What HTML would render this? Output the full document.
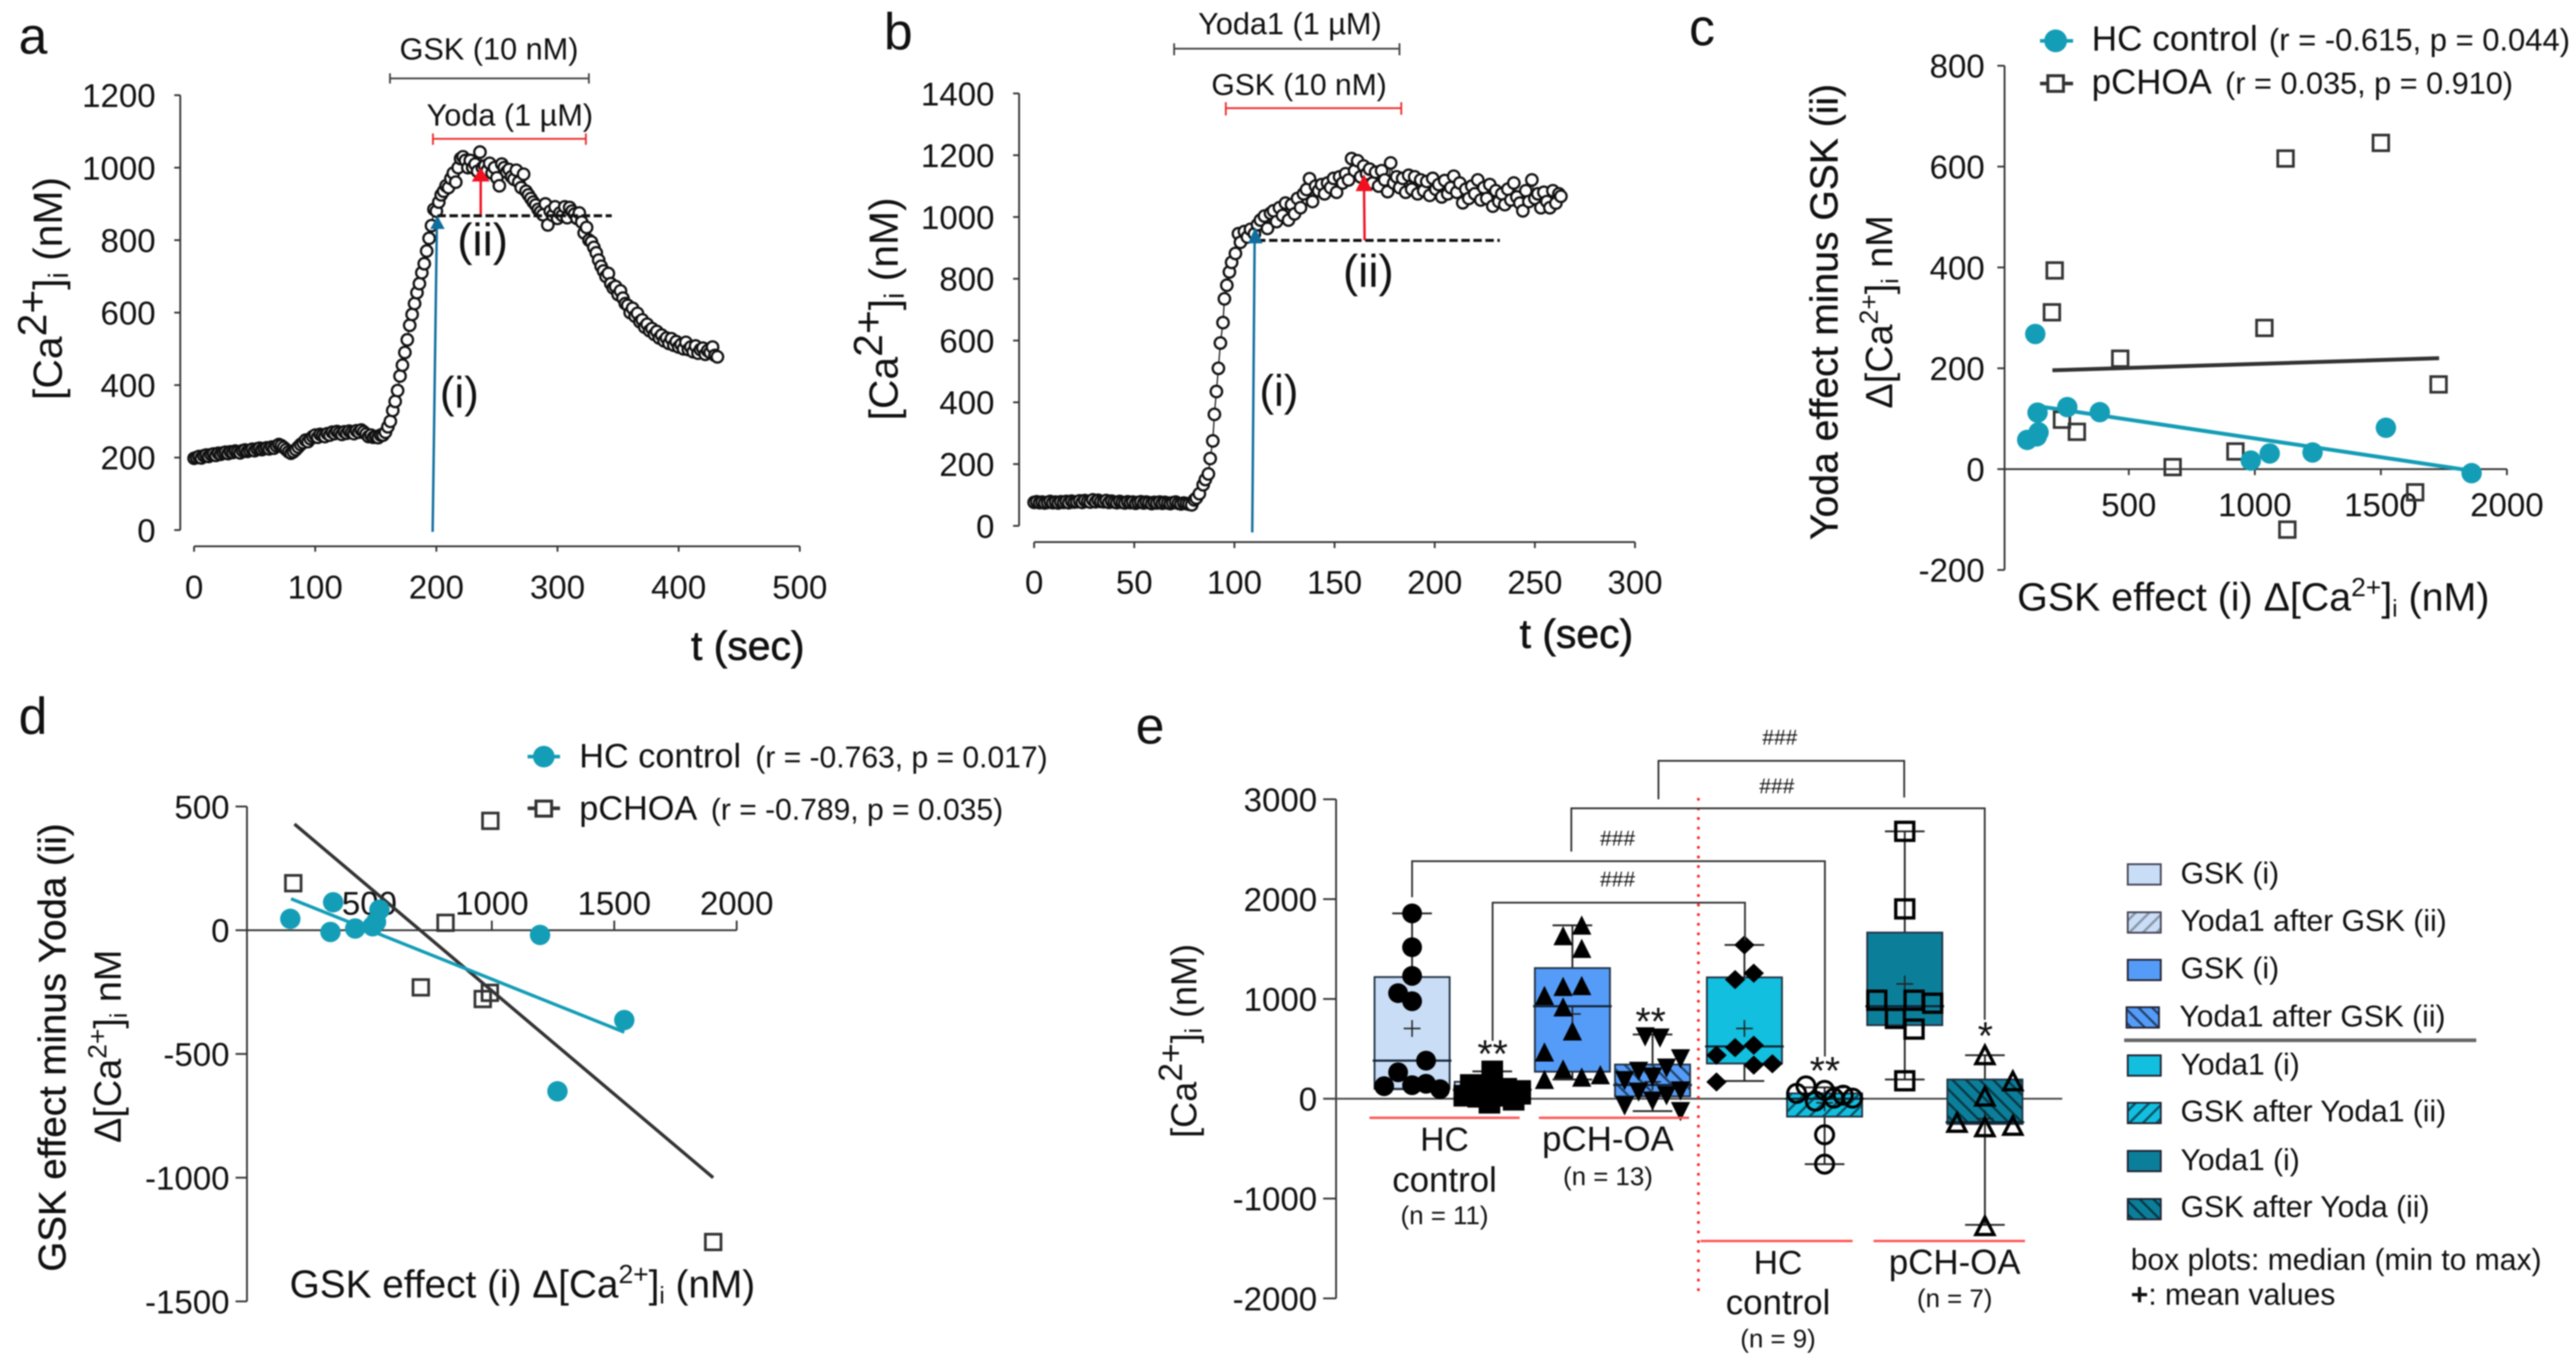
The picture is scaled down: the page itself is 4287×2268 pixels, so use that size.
<!DOCTYPE html>
<html lang="en">
<head>
<meta charset="utf-8">
<title>Calcium response panels a-e</title>
<style>
html,body{margin:0;padding:0;background:#fff;}
svg{display:block;filter:blur(1px);}
text{font-family:"Liberation Sans",sans-serif;fill:#111;}
</style>
</head>
<body>
<svg id="figure" xmlns="http://www.w3.org/2000/svg" width="4287" height="2268" viewBox="0 0 4287 2268">
<defs>
<pattern id="hatch-pale" width="16" height="16" patternUnits="userSpaceOnUse" patternTransform="rotate(45)"><rect width="16" height="16" fill="#C9DDF6"/><line x1="3" y1="0" x2="3" y2="16" stroke="#8a97a8" stroke-width="4"/></pattern>
<pattern id="hatch-blue" width="16" height="16" patternUnits="userSpaceOnUse" patternTransform="rotate(-45)"><rect width="16" height="16" fill="#559CF8"/><line x1="3" y1="0" x2="3" y2="16" stroke="#24466f" stroke-width="4"/></pattern>
<pattern id="hatch-cyan" width="16" height="16" patternUnits="userSpaceOnUse" patternTransform="rotate(45)"><rect width="16" height="16" fill="#12BFDF"/><line x1="3" y1="0" x2="3" y2="16" stroke="#0d5468" stroke-width="4"/></pattern>
<pattern id="hatch-teal" width="16" height="16" patternUnits="userSpaceOnUse" patternTransform="rotate(-45)"><rect width="16" height="16" fill="#0B7F9A"/><line x1="3" y1="0" x2="3" y2="16" stroke="#0a3a48" stroke-width="4"/></pattern>
</defs>

<!-- PANEL A -->
<g>
<text x="31" y="89" font-size="86">a</text>
<g id="a-axes"></g>
<g id="a-marks"></g>
<text transform="translate(103,480) rotate(-90)" text-anchor="middle" font-size="68">[Ca<tspan dy="-26" font-size="68">2+</tspan><tspan dy="26">]</tspan><tspan dy="10" font-size="46">i</tspan><tspan dy="-10"> (nM)</tspan></text>
<text x="1150" y="1098" font-size="68" stroke="#111" stroke-width="1">t (sec)</text>
<text x="665" y="99" font-size="51">GSK (10 nM)</text>
<path d="M649 122V139M649 130.5H980M980 122V139" fill="none" stroke="#444" stroke-width="3"/>
<text x="710" y="209" font-size="51">Yoda (1 µM)</text>
<path d="M720.5 222V241M720.5 231H975M975 222V241" fill="none" stroke="#ee2b2b" stroke-width="3"/>
<line x1="728" y1="359" x2="1018" y2="359" stroke="#111" stroke-width="5" stroke-dasharray="14 6"/>
<line x1="720" y1="885" x2="727" y2="375" stroke="#0F6E9E" stroke-width="4"/>
<polygon points="728,359 716,381 740,381" fill="#0F6E9E"/>
<line x1="800" y1="357" x2="800" y2="295" stroke="#f01020" stroke-width="4"/>
<polygon points="800,279 785,302 815,302" fill="#f01020"/>
<text x="761" y="425" font-size="76">(ii)</text>
<text x="732" y="678" font-size="73">(i)</text>
</g>

<!-- PANEL B -->
<g>
<text x="1471" y="82" font-size="86">b</text>
<g id="b-axes"></g>
<g id="b-marks"></g>
<text transform="translate(1494,514) rotate(-90)" text-anchor="middle" font-size="68">[Ca<tspan dy="-26" font-size="68">2+</tspan><tspan dy="26">]</tspan><tspan dy="10" font-size="46">i</tspan><tspan dy="-10"> (nM)</tspan></text>
<text x="2529" y="1078" font-size="68" stroke="#111" stroke-width="1">t (sec)</text>
<text x="1994" y="57" font-size="51">Yoda1 (1 µM)</text>
<path d="M1954 72V92M1954 81H2329M2329 72V92" fill="none" stroke="#444" stroke-width="3"/>
<text x="2016" y="158" font-size="50">GSK (10 nM)</text>
<path d="M2040 170V192M2040 180H2332M2332 170V191" fill="none" stroke="#ee2b2b" stroke-width="3"/>
<line x1="2092" y1="400" x2="2496" y2="400" stroke="#111" stroke-width="5" stroke-dasharray="14 6"/>
<line x1="2084" y1="886" x2="2088" y2="395" stroke="#0F6E9E" stroke-width="4"/>
<polygon points="2089,378 2077,405 2101,405" fill="#0F6E9E"/>
<line x1="2271" y1="400" x2="2270" y2="310" stroke="#f01020" stroke-width="4"/>
<polygon points="2270,290 2256,318 2284,318" fill="#f01020"/>
<text x="2235" y="477" font-size="76">(ii)</text>
<text x="2096" y="675" font-size="73">(i)</text>
</g>

<!-- PANEL C -->
<g>
<text x="2811" y="75" font-size="86">c</text>
<g id="c-axes"></g>
<g id="c-marks"></g>
<text transform="translate(3058,519) rotate(-90)" text-anchor="middle" font-size="65" stroke="#111" stroke-width="0.6">Yoda effect minus GSK (ii)</text>
<text transform="translate(3149,519) rotate(-90)" text-anchor="middle" font-size="63">Δ[Ca<tspan dy="-24" font-size="44">2+</tspan><tspan dy="24">]</tspan><tspan dy="10" font-size="40">i</tspan><tspan dy="-10"> nM</tspan></text>
<text x="3357" y="1016" font-size="65.5">GSK effect (i) Δ[Ca<tspan dy="-24" font-size="44">2+</tspan><tspan dy="24">]</tspan><tspan dy="10" font-size="40">i</tspan><tspan dy="-10"> (nM)</tspan></text>
<g>
<line x1="3395" y1="68" x2="3450" y2="68" stroke="#149DB6" stroke-width="6"/>
<circle cx="3421" cy="68" r="19" fill="#149DB6"/>
<text x="3481" y="84" font-size="58.5">HC control</text>
<text x="3776" y="84" font-size="51.5">(r = -0.615, p = 0.044)</text>
</g>
<g>
<line x1="3395" y1="139" x2="3450" y2="139" stroke="#333" stroke-width="6"/>
<rect x="3408" y="126" width="26" height="26" fill="#fff" stroke="#333" stroke-width="5"/>
<text x="3481" y="156" font-size="58">pCHOA</text>
<text x="3703" y="156" font-size="51">(r = 0.035, p = 0.910)</text>
</g>
</g>

<!-- PANEL D -->
<g>
<text x="31" y="1221" font-size="86">d</text>
<g id="d-axes"></g>
<g id="d-marks"></g>
<text transform="translate(109,1743) rotate(-90)" text-anchor="middle" font-size="64" stroke="#111" stroke-width="0.6">GSK effect minus Yoda (ii)</text>
<text transform="translate(201,1741) rotate(-90)" text-anchor="middle" font-size="63">Δ[Ca<tspan dy="-24" font-size="44">2+</tspan><tspan dy="24">]</tspan><tspan dy="10" font-size="40">i</tspan><tspan dy="-10"> nM</tspan></text>
<text x="482" y="2159" font-size="64.5">GSK effect (i) Δ[Ca<tspan dy="-24" font-size="44">2+</tspan><tspan dy="24">]</tspan><tspan dy="10" font-size="40">i</tspan><tspan dy="-10"> (nM)</tspan></text>
<g>
<line x1="878" y1="1259" x2="932" y2="1259" stroke="#149DB6" stroke-width="6"/>
<circle cx="905" cy="1259" r="18" fill="#149DB6"/>
<text x="964" y="1277" font-size="57">HC control</text>
<text x="1257" y="1277" font-size="50">(r = -0.763, p = 0.017)</text>
</g>
<g>
<line x1="878" y1="1345" x2="932" y2="1345" stroke="#333" stroke-width="6"/>
<rect x="892" y="1333" width="26" height="25" fill="#fff" stroke="#333" stroke-width="5"/>
<text x="964" y="1364" font-size="57">pCHOA</text>
<text x="1183" y="1364" font-size="50">(r = -0.789, p = 0.035)</text>
</g>
</g>

<!-- PANEL E -->
<g>
<text x="1890" y="1237" font-size="86">e</text>
<g id="e-axes"></g>
<line x1="2826.5" y1="1330" x2="2826.5" y2="2150" stroke="#f22" stroke-width="5" stroke-linecap="round" stroke-dasharray="0 16"/>
<g id="e-boxes"></g>
<text transform="translate(1991,1732) rotate(-90)" text-anchor="middle" font-size="60">[Ca<tspan dy="-24" font-size="56">2+</tspan><tspan dy="24">]</tspan><tspan dy="9" font-size="40">i</tspan><tspan dy="-9"> (nM)</tspan></text>
<path d="M2760 1330V1266H3169V1327" fill="none" stroke="#333" stroke-width="3"/>
<path d="M2615 1417V1345H3303V1697" fill="none" stroke="#333" stroke-width="3"/>
<path d="M2350 1493V1433H3037V1758" fill="none" stroke="#333" stroke-width="3"/>
<path d="M2484 1732V1502H2904V1565" fill="none" stroke="#333" stroke-width="3"/>
<text x="2962" y="1239" font-size="35" text-anchor="middle">###</text>
<text x="2957" y="1320" font-size="35" text-anchor="middle">###</text>
<text x="2692" y="1407" font-size="35" text-anchor="middle">###</text>
<text x="2692" y="1475" font-size="35" text-anchor="middle">###</text>
<text x="2484" y="1776" font-size="65" text-anchor="middle">**</text>
<text x="2747" y="1722" font-size="65" text-anchor="middle">**</text>
<text x="3037" y="1804" font-size="65" text-anchor="middle">**</text>
<text x="3304" y="1746" font-size="65" text-anchor="middle">*</text>
<line x1="2279" y1="1860" x2="2529" y2="1860" stroke="#f55" stroke-width="4"/>
<line x1="2561" y1="1860" x2="2811" y2="1860" stroke="#f55" stroke-width="4"/>
<line x1="2830" y1="2065" x2="3083" y2="2065" stroke="#f55" stroke-width="4"/>
<line x1="3118" y1="2065" x2="3370" y2="2065" stroke="#f55" stroke-width="4"/>
<text x="2404" y="1915" font-size="56" text-anchor="middle">HC</text>
<text x="2404" y="1983" font-size="58" text-anchor="middle">control</text>
<text x="2404" y="2037" font-size="43" text-anchor="middle">(n = 11)</text>
<text x="2676" y="1915" font-size="58" text-anchor="middle">pCH-OA</text>
<text x="2676" y="1972" font-size="43" text-anchor="middle">(n = 13)</text>
<text x="2959" y="2120" font-size="56" text-anchor="middle">HC</text>
<text x="2959" y="2187" font-size="58" text-anchor="middle">control</text>
<text x="2959" y="2242" font-size="43" text-anchor="middle">(n = 9)</text>
<text x="3253" y="2120" font-size="58" text-anchor="middle">pCH-OA</text>
<text x="3253" y="2175" font-size="43" text-anchor="middle">(n = 7)</text>
</g>

<!-- LEGEND E -->
<g>
<rect x="3541" y="1438" width="55" height="34" fill="#C9DDF6" stroke="#445" stroke-width="3"/>
<text x="3629" y="1470" font-size="50">GSK (i)</text>
<rect x="3541" y="1518" width="55" height="34" fill="url(#hatch-pale)" stroke="#445" stroke-width="3"/>
<text x="3629" y="1549" font-size="50">Yoda1 after GSK (ii)</text>
<rect x="3541" y="1597" width="55" height="34" fill="#559CF8" stroke="#223" stroke-width="3"/>
<text x="3629" y="1628" font-size="50">GSK (i)</text>
<rect x="3539" y="1676" width="54" height="34" fill="url(#hatch-blue)" stroke="#223" stroke-width="3"/>
<text x="3627" y="1708" font-size="50">Yoda1 after GSK (ii)</text>
<line x1="3535" y1="1731" x2="4121" y2="1731" stroke="#666" stroke-width="6"/>
<rect x="3541" y="1756" width="55" height="34" fill="#12BFDF" stroke="#223" stroke-width="3"/>
<text x="3629" y="1788" font-size="50">Yoda1 (i)</text>
<rect x="3541" y="1835" width="55" height="34" fill="url(#hatch-cyan)" stroke="#223" stroke-width="3"/>
<text x="3629" y="1866" font-size="50">GSK after Yoda1 (ii)</text>
<rect x="3541" y="1915" width="55" height="34" fill="#0B7F9A" stroke="#223" stroke-width="3"/>
<text x="3629" y="1947" font-size="50">Yoda1 (i)</text>
<rect x="3541" y="1995" width="55" height="34" fill="url(#hatch-teal)" stroke="#223" stroke-width="3"/>
<text x="3629" y="2025" font-size="50">GSK after Yoda (ii)</text>
<text x="3546" y="2113" font-size="50">box plots: median (min to max)</text>
<text x="3546" y="2171" font-size="50"><tspan font-weight="bold">+</tspan>: mean values</text>
</g>
</svg>

<script>
/* ---------- panel a data ---------- */
const aXTicks=[0,100,200,300,400,500];
const aYTicks=[0,200,400,600,800,1000,1200];
const timeA=[
0,2,4,6,8,10,12,14,16,18,
20,22,24,26,28,30,32,34,36,38,
40,42,44,46,48,50,52,54,56,58,
60,62,64,66,68,70,72,74,76,78,
80,82,84,86,88,90,92,94,96,98,
100,102,104,106,108,110,112,114,116,118,
120,122,124,126,128,130,132,134,136,138,
140,142,144,146,148,150,152,154,156,158,
160,162,164,166,168,170,172,174,176,178,
180,182,184,186,188,190,192,194,196,198,
200,202,204,206,208,210,212,214,216,218,
220,222,224,226,228,230,232,234,236,238,
240,242,244,246,248,250,252,254,256,258,
260,262,264,266,268,270,272,274,276,278,
280,282,284,286,288,290,292,294,296,298,
300,302,304,306,308,310,312,314,316,318,
320,322,324,326,328,330,332,334,336,338,
340,342,344,346,348,350,352,354,356,358,
360,362,364,366,368,370,372,374,376,378,
380,382,384,386,388,390,392,394,396,398,
400,402,404,406,408,410,412,414,416,418,
420,422,424,426,428,430,432];
const calciumA=[
198,200,203,199,205,207,203,208,210,206,
212,209,213,215,211,216,214,218,216,213,
219,221,217,220,223,219,224,226,222,225,
227,224,229,226,232,236,233,228,222,216,
212,216,222,229,236,241,248,244,252,258,
262,256,264,261,258,266,262,270,266,272,
268,264,271,267,273,269,266,274,270,276,
271,265,258,262,256,258,255,262,262,270,
285,300,330,355,385,425,455,490,525,565,
595,625,655,680,710,735,770,805,840,885,
880,905,925,935,950,945,970,985,960,1000,
1025,1030,1020,1000,1020,1000,1010,990,1043,1000,
1005,992,1012,985,1000,972,950,1010,1000,988,
995,975,968,993,960,945,982,935,925,915,
905,897,885,878,870,900,842,880,868,892,
860,875,868,892,862,890,880,872,860,875,
850,820,835,800,795,780,765,745,728,715,
700,708,680,668,672,650,660,640,625,620,
600,612,590,598,575,580,560,568,550,556,
540,548,530,538,522,530,515,528,510,520,
505,512,500,518,498,505,492,508,488,498,
502,485,495,490,505,482,478];

/* ---------- panel b data ---------- */
const bXTicks=[0,50,100,150,200,250,300];
const bYTicks=[0,200,400,600,800,1000,1200,1400];
const timeB=[
0,1.3,2.7,4,5.3,6.7,8,9.3,10.7,12,13.3,14.7,
16,17.3,18.7,20,21.3,22.7,24,25.3,26.7,28,29.3,30.7,
32,33.3,34.7,36,37.3,38.7,40,41.3,42.7,44,45.3,46.7,
48,49.3,50.7,52,53.3,54.7,56,57.3,58.7,60,61.3,62.7,
64,65.3,66.7,68,69.3,70.7,72,73.3,74.7,76,77.3,78.7,
80,81,82.5,84.4,85.5,87,87.9,89.2,90,91,92,93,
94.3,95,96.2,97.5,98.6,100.5,102,103,105,106.5,108,110,
111.5,113,115,116.5,118,119.5,121,122.5,124,125.5,127,128.5,
130,131.5,133,134.5,136,137.5,139,140.5,142,143.5,145,146.5,
148,149.5,151,152.5,154,155.5,157,158.5,160,161.5,163,164.5,
166,167.5,169,170.5,172,173.5,175,176.5,178,179.5,181,182.5,
184,185.5,187,188.5,190,191.5,193,194.5,196,197.5,199,200.5,
202,203.5,205,206.5,208,209.5,211,212.5,214,215.5,217,218.5,
220,221.5,223,224.5,226,227.5,229,230.5,232,233.5,235,236.5,
238,239.5,241,242.5,244,245.5,247,248.5,250,251.5,253,254.5,
256,257.5,259,260.5,262,263];
const calciumB=[
76,78,75,77,74,76,79,75,77,74,78,76,
79,75,80,77,78,81,76,82,79,77,84,78,
83,79,78,82,76,80,77,75,79,76,74,78,
75,77,73,76,78,74,77,75,72,76,74,77,
73,76,74,72,75,77,73,71,74,72,70,68,
84,90,104,133,150,168,218,275,361,435,510,592,
658,735,779,822,853,882,946,918,953,935,960,946,
975,990,1003,963,1012,1020,985,1030,1005,1045,990,1040,
1010,1060,1030,1075,1089,1124,1050,1100,1085,1105,1075,1110,
1095,1125,1080,1130,1110,1140,1120,1189,1150,1182,1130,1165,
1140,1155,1110,1145,1100,1150,1120,1082,1175,1110,1130,1095,
1125,1080,1135,1090,1130,1075,1120,1085,1115,1070,1125,1090,
1105,1065,1118,1075,1095,1132,1080,1110,1046,1090,1060,1100,
1075,1120,1055,1095,1060,1105,1035,1085,1050,1075,1040,1090,
1055,1110,1065,1045,1020,1085,1050,1120,1060,1075,1030,1080,
1050,1030,1085,1045,1075,1067];

/* ---------- panel c data ---------- */
const cXTicks=[500,1000,1500,2000];
const cYTicks=[-200,0,200,400,600,800];
const cHcX=[129,138,256,385,142,135,97,984,1059,1229,1520,1860];
const cHcY=[268,112,123,113,73,65,58,17,31,33,82,-8];
const cPchoaX=[1122,1500,206,195,1038,466,1729,235,294,674,923,1636,1129];
const cPchoaY=[616,647,394,311,280,219,168,98,74,4,35,-46,-120];
const cHcFitX=[138,1845];
const cHcFitY=[125,-2];
const cPchoaFitX=[197,1731];
const cPchoaFitY=[196,220];

/* ---------- panel d data ---------- */
const dXTicks=[500,1000,1500,2000];
const dYTicks=[-1500,-1000,-500,0,500];
const dHcX=[177,352,341,442,513,527,541,1197,1541,1268];
const dHcY=[46,113,-7,7,16,33,83,-19,-363,-651];
const dPchoaX=[189,994,811,710,992,963,1904];
const dPchoaY=[190,442,30,-231,-253,-278,-1260];
const dHcFitX=[180,1541];
const dHcFitY=[127,-412];
const dPchoaFitX=[194,1904];
const dPchoaFitY=[429,-1000];

/* ---------- panel e data ---------- */
const eYTicks=[-2000,-1000,0,1000,2000,3000];
const boxCategories=['HC GSK (i)','HC Yoda1 after GSK (ii)','pCH-OA GSK (i)','pCH-OA Yoda1 after GSK (ii)','HC Yoda1 (i)','HC GSK after Yoda1 (ii)','pCH-OA Yoda1 (i)','pCH-OA GSK after Yoda (ii)'];
const boxMin=[96,-60,193,-124,178,-655,193,-1263];
const boxQ1=[100,-30,271,24,353,-179,737,-253];
const boxMedian=[382,90,927,138,524,0,927,-235];
const boxQ3=[1219,170,1309,343,1216,54,1665,193];
const boxMax=[1857,274,1737,644,1541,114,2679,436];
const boxMean=[704,90,849,170,704,-40,1150,-200];
const pointsHcGsk=[1857,1518,1231,1058,977,382,265,126,136,150,96];
const slotsHcGsk=[0,0,0,-1.5,0,1.5,-1.5,-3,0,1.5,3];
const pointsHcYoda=[274,138,130,30,-40,-10,78,50,20,100,30];
const slotsHcYoda=[0,-2.3,0,-3,-0.3,2.3,3,3,-1.5,1.5,0];
const pointsPchGsk=[1728,1622,1495,1113,1122,1023,909,668,457,286,182,205,229];
const slotsPchGsk=[1,-1,1,-1,1,-3,-1,0,-3,-1,-3,1,3];
const pointsPchYoda=[632,620,412,286,319,229,193,90,78,42,-12,-60,-117];
const slotsPchYoda=[-0.8,0.8,3,-1.5,1.5,0,-3,3,-1.5,1.5,0,-3,3];
const pointsHcYoda1=[1541,1258,1194,512,536,436,337,350,168];
const slotsHcYoda1=[0,1,-1,-1,1,-3,1,3,-3];
const pointsHcGskAfter=[129,54,84,-24,36,6,6,-361,-655];
const slotsHcGskAfter=[-2,-3,0,-1,2,1,3,0,0];
const pointsPchYoda1=[2679,1902,987,805,987,957,698,180];
const slotsPchYoda1=[0,0,-3,-1,1,3,1,0];
const pointsPchGskAfter=[436,175,21,-241,-286,-271,-1276];
const slotsPchGskAfter=[0,3,0,-3,0,3,0];

/* ---------- helpers ---------- */
const NS='http://www.w3.org/2000/svg';
function el(parent,tag,attrs){
  const n=document.createElementNS(NS,tag);
  for(const k in attrs){n.setAttribute(k,attrs[k]);}
  parent.appendChild(n);
  return n;
}
function lin(d0,d1,r0,r1){return v=>r0+(v-d0)*(r1-r0)/(d1-d0);}
const AXIS_COLOR='#333';
function drawYAxis(g,scale,ticks,axisX,tickX,labelX,fs){
  const axis=el(g,'line',{x1:axisX,x2:axisX,y1:scale(ticks[0]),y2:scale(ticks[ticks.length-1]),stroke:AXIS_COLOR,'stroke-width':3});
  
  
  ticks.forEach(v=>{
    const t=el(g,'line',{x1:tickX,x2:axisX,y1:scale(v),y2:scale(v),stroke:AXIS_COLOR,'stroke-width':3});
    
    
    const l=el(g,'text',{x:labelX,y:scale(v)+fs*0.36,'font-size':fs,'text-anchor':'end'});
    
    
    l.textContent=String(v);
  });
}
function drawXAxis(g,scale,ticks,axisY,x0,x1,tickY,labelY,fs){
  const axis=el(g,'line',{x1:x0,x2:x1,y1:axisY,y2:axisY,stroke:AXIS_COLOR,'stroke-width':3});
  
  
  ticks.forEach(v=>{
    const t=el(g,'line',{x1:scale(v),x2:scale(v),y1:axisY,y2:tickY,stroke:AXIS_COLOR,'stroke-width':3});
    
    
    const l=el(g,'text',{x:scale(v),y:labelY,'font-size':fs,'text-anchor':'middle'});
    
    
    l.textContent=String(v);
  });
}
function drawTrace(g,xs,ys,sx,sy){
  const pts=xs.map((t,i)=>sx(t)+','+sy(ys[i])).join(' ');
  const line=el(g,'polyline',{points:pts,fill:'none',stroke:'#111','stroke-width':2});
  
  
  xs.forEach((t,i)=>{
    const c=el(g,'circle',{cx:sx(t),cy:sy(ys[i]),r:9.5,fill:'#fff',stroke:'#111','stroke-width':3.8});
    
    
  });
}
function drawFit(g,xs,ys,sx,sy,color,w){
  const line=el(g,'line',{x1:sx(xs[0]),y1:sy(ys[0]),x2:sx(xs[1]),y2:sy(ys[1]),stroke:color,'stroke-width':w});
  
  
}
function drawDots(g,xs,ys,sx,sy,color){
  xs.forEach((x,i)=>{
    const c=el(g,'circle',{cx:sx(x),cy:sy(ys[i]),r:17,fill:color});
    
    
  });
}
function drawSquares(g,xs,ys,sx,sy,color){
  xs.forEach((x,i)=>{
    const r=el(g,'rect',{x:sx(x)-13,y:sy(ys[i])-13,width:26,height:26,fill:'none',stroke:color,'stroke-width':4.5});
    
    
  });
}

/* ---------- panel a ---------- */
const aX=lin(0,500,323,1331), aY=lin(0,1200,882,158.4);
const aAxes=document.getElementById('a-axes');
drawYAxis(aAxes,aY,aYTicks,300,290,259,55);
drawXAxis(aAxes,aX,aXTicks,909,aX(0),aX(500),918,996,55);
drawTrace(document.getElementById('a-marks'),timeA,calciumA,aX,aY);

/* ---------- panel b ---------- */
const bX=lin(0,300,1721,2721), bY=lin(0,1400,875,155.5);
const bAxes=document.getElementById('b-axes');
drawYAxis(bAxes,bY,bYTicks,1696,1686,1655,55);
drawXAxis(bAxes,bX,bXTicks,902,bX(0),bX(300),912,988,55);
drawTrace(document.getElementById('b-marks'),timeB,calciumB,bX,bY);

/* ---------- panel c ---------- */
const cX=lin(0,2000,3333,4172), cY=lin(-200,800,948.4,109.4);
const cAxes=document.getElementById('c-axes');
drawYAxis(cAxes,cY,cYTicks,3336,3324,3303,55);
drawXAxis(cAxes,cX,cXTicks,cY(0),3336,cX(2000),cY(0)+10,859,55);
const cMarks=document.getElementById('c-marks');
drawSquares(cMarks,cPchoaX,cPchoaY,cX,cY,'#333');
drawFit(cMarks,cPchoaFitX,cPchoaFitY,cX,cY,'#333',6.5);
drawFit(cMarks,cHcFitX,cHcFitY,cX,cY,'#149DB6',6.5);
drawDots(cMarks,cHcX,cHcY,cX,cY,'#149DB6');

/* ---------- panel d ---------- */
const dX=lin(0,2000,411,1226), dY=lin(-1500,500,2165.5,1342);
const dAxes=document.getElementById('d-axes');
drawYAxis(dAxes,dY,dYTicks,411,392,382,55);
drawXAxis(dAxes,dX,dXTicks,dY(0),411,dX(2000),dY(0)-16,1522,55);
const dMarks=document.getElementById('d-marks');
drawSquares(dMarks,dPchoaX,dPchoaY,dX,dY,'#333');
drawFit(dMarks,dPchoaFitX,dPchoaFitY,dX,dY,'#333',5.5);
drawFit(dMarks,dHcFitX,dHcFitY,dX,dY,'#149DB6',5.5);
drawDots(dMarks,dHcX,dHcY,dX,dY,'#149DB6');

/* ---------- panel e ---------- */
const eY=lin(-2000,3000,2160.5,1330);
const eX=i=>2350+133.4*i+(i>=4?19.5:0);
const SLOT=15.5;
const BOX_W=125, CAP_W=66;
const eAxes=document.getElementById('e-axes');
drawYAxis(eAxes,eY,eYTicks,2223.5,2202,2192,55);
const zero=el(eAxes,'line',{x1:2202,x2:3432,y1:eY(0),y2:eY(0),stroke:'#444','stroke-width':3});



const boxFillStyles=['#C9DDF6','url(#hatch-pale)','#559CF8','url(#hatch-blue)','#12BFDF','url(#hatch-cyan)','#0B7F9A','url(#hatch-teal)'];
const boxPointSeries=[pointsHcGsk,pointsHcYoda,pointsPchGsk,pointsPchYoda,pointsHcYoda1,pointsHcGskAfter,pointsPchYoda1,pointsPchGskAfter];
const boxSlotSeries=[slotsHcGsk,slotsHcYoda,slotsPchGsk,slotsPchYoda,slotsHcYoda1,slotsHcGskAfter,slotsPchYoda1,slotsPchGskAfter];
const boxMarkerKinds=['circle','square','up','down','diamond','ocircle','osquare','oup'];

function drawMarker(g,kind,cx,cy){
  let m;
  if(kind==='circle'){m=el(g,'circle',{cx:cx,cy:cy,r:16.5,fill:'#000'});}
  else if(kind==='ocircle'){m=el(g,'circle',{cx:cx,cy:cy,r:15,fill:'none',stroke:'#000','stroke-width':5});}
  else if(kind==='square'){m=el(g,'rect',{x:cx-18,y:cy-18,width:36,height:36,fill:'#000'});}
  else if(kind==='osquare'){m=el(g,'rect',{x:cx-15,y:cy-15,width:30,height:30,fill:'none',stroke:'#000','stroke-width':5.5});}
  else if(kind==='up'){m=el(g,'polygon',{points:(cx)+','+(cy-18)+' '+(cx-16)+','+(cy+14)+' '+(cx+16)+','+(cy+14),fill:'#000'});}
  else if(kind==='oup'){m=el(g,'polygon',{points:(cx)+','+(cy-15)+' '+(cx-15)+','+(cy+14)+' '+(cx+15)+','+(cy+14),fill:'none',stroke:'#000','stroke-width':5.5});}
  else if(kind==='down'){m=el(g,'polygon',{points:(cx)+','+(cy+18)+' '+(cx-16)+','+(cy-14)+' '+(cx+16)+','+(cy-14),fill:'#000'});}
  else{m=el(g,'polygon',{points:(cx)+','+(cy-16)+' '+(cx+17)+','+(cy)+' '+(cx)+','+(cy+16)+' '+(cx-17)+','+(cy),fill:'#000'});}
  
  
}
const eBoxes=document.getElementById('e-boxes');
boxCategories.forEach((cat,i)=>{
  const cx=eX(i);
  const g=el(eBoxes,'g',{});
  
  
  const whisker=el(g,'line',{x1:cx,x2:cx,y1:eY(boxMin[i]),y2:eY(boxMax[i]),stroke:'#222','stroke-width':3});
  
  
  [boxMin[i],boxMax[i]].forEach(v=>{
    const cap=el(g,'line',{x1:cx-CAP_W/2,x2:cx+CAP_W/2,y1:eY(v),y2:eY(v),stroke:'#222','stroke-width':3});
    
    
  });
  const box=el(g,'rect',{x:cx-BOX_W/2,y:eY(boxQ3[i]),width:BOX_W,height:eY(boxQ1[i])-eY(boxQ3[i]),fill:boxFillStyles[i],stroke:'#234','stroke-width':3});
  
  
  const med=el(g,'line',{x1:cx-BOX_W/2-3,x2:cx+BOX_W/2+3,y1:eY(boxMedian[i]),y2:eY(boxMedian[i]),stroke:'#123','stroke-width':3.5});
  
  
  const mean=el(g,'path',{d:'M'+(cx-14)+' '+eY(boxMean[i])+'H'+(cx+14)+'M'+cx+' '+(eY(boxMean[i])-14)+'V'+(eY(boxMean[i])+14),fill:'none',stroke:'#222','stroke-width':2.5});
  
  
  boxPointSeries[i].forEach((v,j)=>{
    drawMarker(g,boxMarkerKinds[i],cx+boxSlotSeries[i][j]*SLOT,eY(v));
  });
});
</script>
</body>
</html>
